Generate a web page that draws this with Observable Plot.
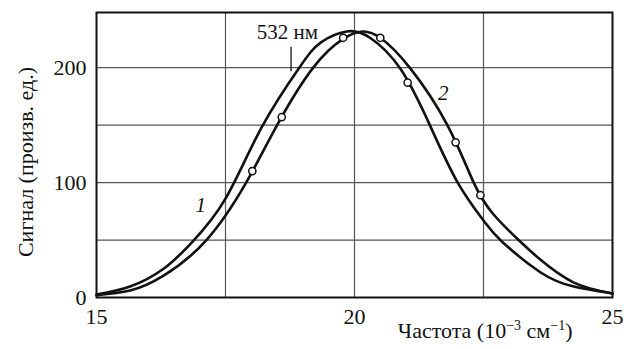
<!DOCTYPE html>
<html>
<head>
<meta charset="utf-8">
<script src="https://cdn.jsdelivr.net/npm/d3@7"></script>
<script src="https://cdn.jsdelivr.net/npm/@observablehq/plot@0.6"></script>
<style>
  html, body { margin: 0; padding: 0; background: #fff; }
  svg text { font-family: "Liberation Serif", "Times New Roman", serif; }
</style>
</head>
<body>
<div id="chart"></div>
<script>
// Axis ticks and grid
const xTicks = [15, 20, 25];
const yTicks = [0, 100, 200];
const xGrid = [17.5, 20, 22.5];
const yGrid = [50, 100, 150, 200];

// Curve 1 (left curve)
const curve1X = [15.0, 15.65, 16.3, 16.85, 17.5, 18.2, 18.93, 19.35, 19.85, 20.3, 20.89, 21.46, 22.0, 22.5, 22.85, 23.6, 24.25, 25.0];
const curve1Y = [2.5, 9.5, 25, 48, 86, 148, 200, 222, 231.5, 226, 199, 150, 100, 67, 49, 22, 9.5, 3.5];

// Curve 2 (right curve)
const curve2X = [15.0, 15.65, 16.3, 17.13, 17.9, 18.5, 19.2, 19.78, 20.15, 20.5, 21.07, 21.8, 22.31, 22.7, 23.18, 23.6, 24.25, 25.0];
const curve2Y = [2, 6, 19, 50, 100, 150, 200, 225, 231.5, 226, 200, 150, 100, 72, 50, 33, 13, 3.5];

// Measured points (circles)
const pointsX = [18.02, 18.59, 19.78, 20.5, 21.03, 21.96, 22.44];
const pointsY = [110, 157, 226, 226, 187, 135, 89];

// Annotations
const annText = ["532 нм", "1", "2"];
const annX = [18.70, 17.02, 21.72];
const annY = [231, 80, 177.6];
const annItalic = [false, true, true];
const markerX = [18.77];
const markerY1 = [196.5];
const markerY2 = [217.7];

// Axis titles (main text + superscripts)
const xLabelParts = [["Частота (10", false], ["−3", true], [" см", false], ["−1", true], [")", false]];
const yLabel = "Сигнал (произв. ед.)";

const FONT = "'Liberation Serif', 'Times New Roman', serif";
const c1 = curve1X.map((x, i) => ({x, y: curve1Y[i]}));
const c2 = curve2X.map((x, i) => ({x, y: curve2Y[i]}));
const pts = pointsX.map((x, i) => ({x, y: pointsY[i]}));
const ann = annText.map((t, i) => ({t, x: annX[i], y: annY[i], it: annItalic[i]}));
const markers = markerX.map((x, i) => ({x, y1: markerY1[i], y2: markerY2[i]}));
const xLabelPlain = xLabelParts.map(p => p[0]).join("");

const chart = Plot.plot({
  width: 624,
  height: 349,
  marginLeft: 96,
  marginRight: 12,
  marginTop: 12,
  marginBottom: 52,
  style: { fontFamily: FONT, fontSize: "22px", color: "#111", background: "#fff" },
  x: { domain: [15, 25] },
  y: { domain: [0, 248] },
  marks: [
    Plot.gridX(xGrid, { stroke: "#555", strokeOpacity: 1, strokeWidth: 1.2 }),
    Plot.gridY(yGrid, { stroke: "#555", strokeOpacity: 1, strokeWidth: 1.2 }),
    Plot.axisX(xTicks, { tickSize: 0, tickPadding: 11, label: null, fontSize: 22, fontFamily: FONT }),
    Plot.axisY(yTicks, { tickSize: 0, tickPadding: 10, label: null, fontSize: 22, fontFamily: FONT }),
    Plot.line(c1, { x: "x", y: "y", curve: "natural", stroke: "#111", strokeWidth: 2.6 }),
    Plot.line(c2, { x: "x", y: "y", curve: "natural", stroke: "#111", strokeWidth: 2.6 }),
    Plot.dot(pts, { x: "x", y: "y", r: 3.6, fill: "white", stroke: "#111", strokeWidth: 1.5 }),
    Plot.ruleX(markers, { x: "x", y1: "y1", y2: "y2", stroke: "#111", strokeWidth: 1.3 }),
    Plot.text(ann.filter(d => !d.it), { x: "x", y: "y", text: "t", fontSize: 21, fontFamily: FONT, fill: "#111" }),
    Plot.text(ann.filter(d => d.it), { x: "x", y: "y", text: "t", fontSize: 21, fontFamily: FONT, fontStyle: "italic", fill: "#111" }),
    Plot.frame({ stroke: "#111", strokeWidth: 2 }),
    Plot.text([xLabelPlain], { frameAnchor: "bottom-right", textAnchor: "end", dx: -40, dy: 40, fontSize: 22, fontFamily: FONT, fill: "#111" }),
    Plot.text([yLabel], { frameAnchor: "left", textAnchor: "middle", dx: -71, dy: 7, rotate: -90, fontSize: 22, fontFamily: FONT, fill: "#111" })
  ]
});
document.getElementById("chart").appendChild(chart);

// Render superscripts in the x-axis title
d3.select(chart).selectAll("text").filter(function () { return this.textContent === xLabelPlain; })
  .each(function () {
    const t = d3.select(this);
    t.text(null);
    xLabelParts.forEach(([s, sup], i) => {
      const sp = t.append("tspan").text(s);
      if (sup) sp.attr("font-size", "14px").attr("dy", "-0.55em");
      else if (i > 0 && xLabelParts[i - 1][1]) sp.attr("dy", "0.35em");
    });
  });
</script>
</body>
</html>
